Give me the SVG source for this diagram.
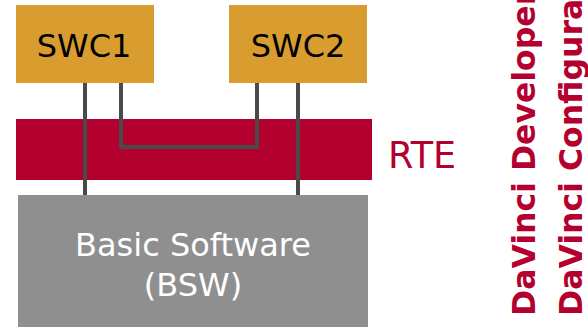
<svg xmlns="http://www.w3.org/2000/svg" width="588" height="327" viewBox="0 0 588 327">
  <style>
    .swc { fill: #d99c2f; }
    .lbl { font-family: "DejaVu Sans", Verdana, sans-serif; text-anchor: middle; }
    .wire { fill: none; stroke: #4a4a4a; stroke-width: 4; }
    .tool { font-family: "DejaVu Sans", Verdana, sans-serif; font-weight: bold; font-size: 31.5px; fill: #b3002f; }
  </style>
  <rect width="588" height="327" fill="#ffffff"/>

  <g id="rte">
    <rect x="16" y="119" width="356" height="61" fill="#b3002f"/>
    <text x="388" y="168" font-family="DejaVu Sans, Verdana, sans-serif" font-size="36.5" fill="#b3002f">RTE</text>
  </g>

  <g id="bsw">
    <rect x="18" y="195" width="350" height="132" fill="#8f8f8f"/>
    <text class="lbl" x="193" y="256" font-size="32" fill="#ffffff">Basic Software</text>
    <text class="lbl" x="193" y="296" font-size="32" fill="#ffffff">(BSW)</text>
  </g>

  <g id="swc1">
    <rect class="swc" x="16" y="5" width="138" height="78"/>
    <text class="lbl" x="84" y="57" font-size="32" fill="#000000">SWC1</text>
  </g>

  <g id="swc2">
    <rect class="swc" x="229" y="5" width="138" height="78"/>
    <text class="lbl" x="298" y="57" font-size="32" fill="#000000">SWC2</text>
  </g>

  <g id="connectors">
    <line class="wire" x1="85" y1="83" x2="85" y2="195"/>
    <polyline class="wire" points="121,83 121,147 257,147 257,83"/>
    <line class="wire" x1="298" y1="83" x2="298" y2="195"/>
  </g>

  <g id="tools">
    <text class="tool" transform="translate(535,316) rotate(-90)">DaVinci Developer</text>
    <text class="tool" transform="translate(582,316) rotate(-90)">DaVinci Configurator</text>
  </g>
</svg>
